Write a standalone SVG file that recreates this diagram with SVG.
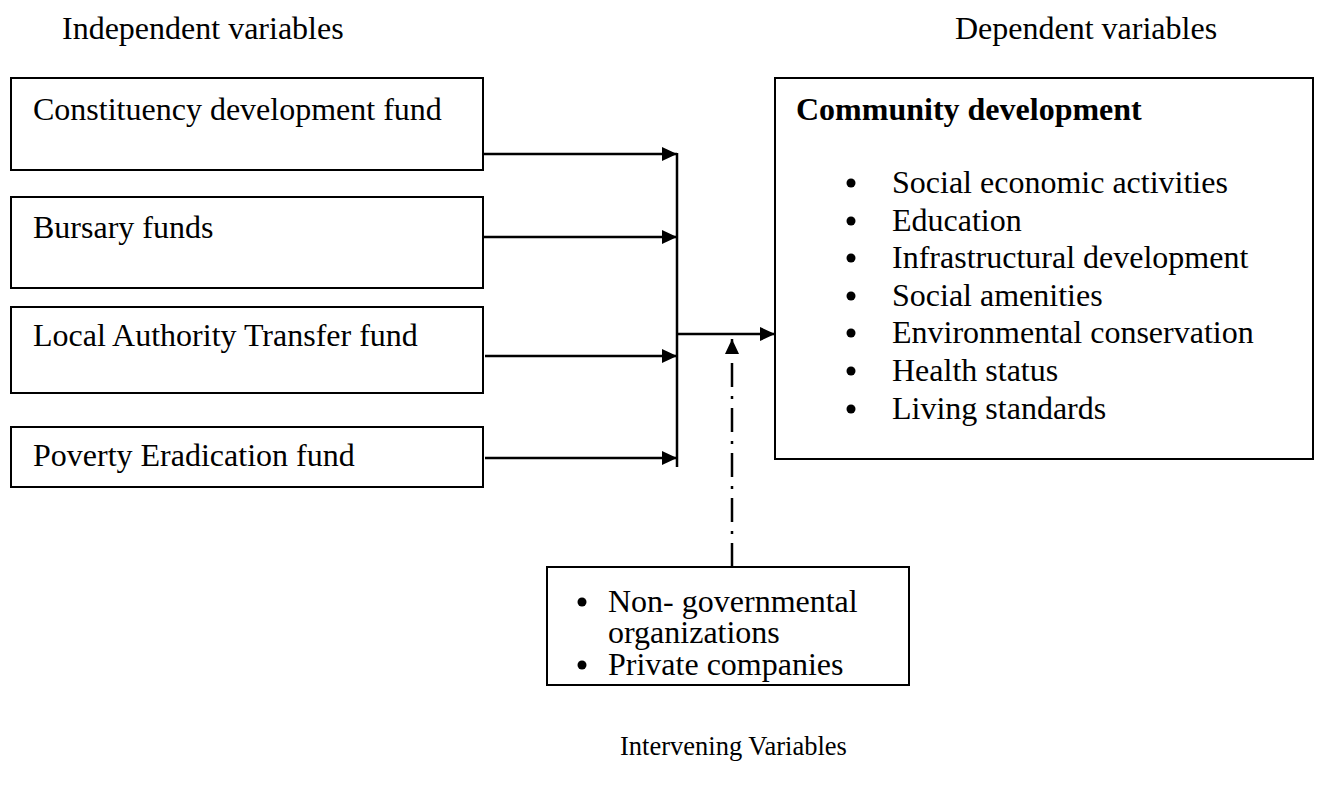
<svg xmlns="http://www.w3.org/2000/svg" width="1319" height="794" viewBox="0 0 1319 794">
<style>
text{font-family:"Liberation Serif","Times New Roman",serif;font-size:32px;fill:#000}
.box{fill:#fff;stroke:#000;stroke-width:2}
.ln{stroke:#000;stroke-width:2.5;fill:none}
.dd{stroke:#000;stroke-width:2.5;fill:none;stroke-dasharray:24 9 3 9}
.small{font-size:26.5px}
</style>
<defs>
<marker id="ah" markerWidth="15" markerHeight="14" refX="15" refY="7" orient="auto" markerUnits="userSpaceOnUse">
<path d="M0,0 L15,7 L0,14 Z" fill="#000"/>
</marker>
</defs>
<rect width="1319" height="794" fill="#fff"/>
<text x="62" y="39">Independent variables</text>
<text x="955" y="39">Dependent variables</text>
<g id="n1"><rect class="box" x="11" y="78" width="472" height="92"/><text x="33" y="120">Constituency development fund</text></g>
<g id="n2"><rect class="box" x="11" y="197" width="472" height="91"/><text x="33" y="238">Bursary funds</text></g>
<g id="n3"><rect class="box" x="11" y="307" width="472" height="86"/><text x="33" y="346">Local Authority Transfer fund</text></g>
<g id="n4"><rect class="box" x="11" y="427" width="472" height="60"/><text x="33" y="466">Poverty Eradication fund</text></g>
<g id="n5"><rect class="box" x="775" y="78" width="538" height="381"/>
<text x="796" y="120" font-weight="bold">Community development</text>
<circle cx="851" cy="183" r="4.5"/><text x="892" y="193">Social economic activities</text>
<circle cx="851" cy="221" r="4.5"/><text x="892" y="231">Education</text>
<circle cx="851" cy="258" r="4.5"/><text x="892" y="268">Infrastructural  development</text>
<circle cx="851" cy="296" r="4.5"/><text x="892" y="306">Social amenities</text>
<circle cx="851" cy="333" r="4.5"/><text x="892" y="343">Environmental conservation</text>
<circle cx="851" cy="371" r="4.5"/><text x="892" y="381">Health status</text>
<circle cx="851" cy="409" r="4.5"/><text x="892" y="419">Living standards</text>
</g>
<g id="n6"><rect class="box" x="547" y="567" width="362" height="118"/>
<circle cx="582" cy="602" r="4.5"/>
<circle cx="582" cy="665" r="4.5"/>
<text><tspan x="608" y="612">Non- governmental</tspan><tspan x="608" y="643">organizations</tspan><tspan x="608" y="675">Private companies</tspan></text>
</g>
<text x="620" y="755" class="small">Intervening Variables</text>
<g id="connectors">
<line class="ln" x1="483" y1="154" x2="677" y2="154" marker-end="url(#ah)"/>
<line class="ln" x1="483" y1="237" x2="677" y2="237" marker-end="url(#ah)"/>
<line class="ln" x1="485" y1="356" x2="677" y2="356" marker-end="url(#ah)"/>
<line class="ln" x1="485" y1="458" x2="677" y2="458" marker-end="url(#ah)"/>
<line class="ln" x1="677" y1="153" x2="677" y2="467"/>
<line class="ln" x1="677" y1="334" x2="775" y2="334" marker-end="url(#ah)"/>
<line class="dd" x1="732" y1="567" x2="732" y2="339" marker-end="url(#ah)"/>
</g>
</svg>
